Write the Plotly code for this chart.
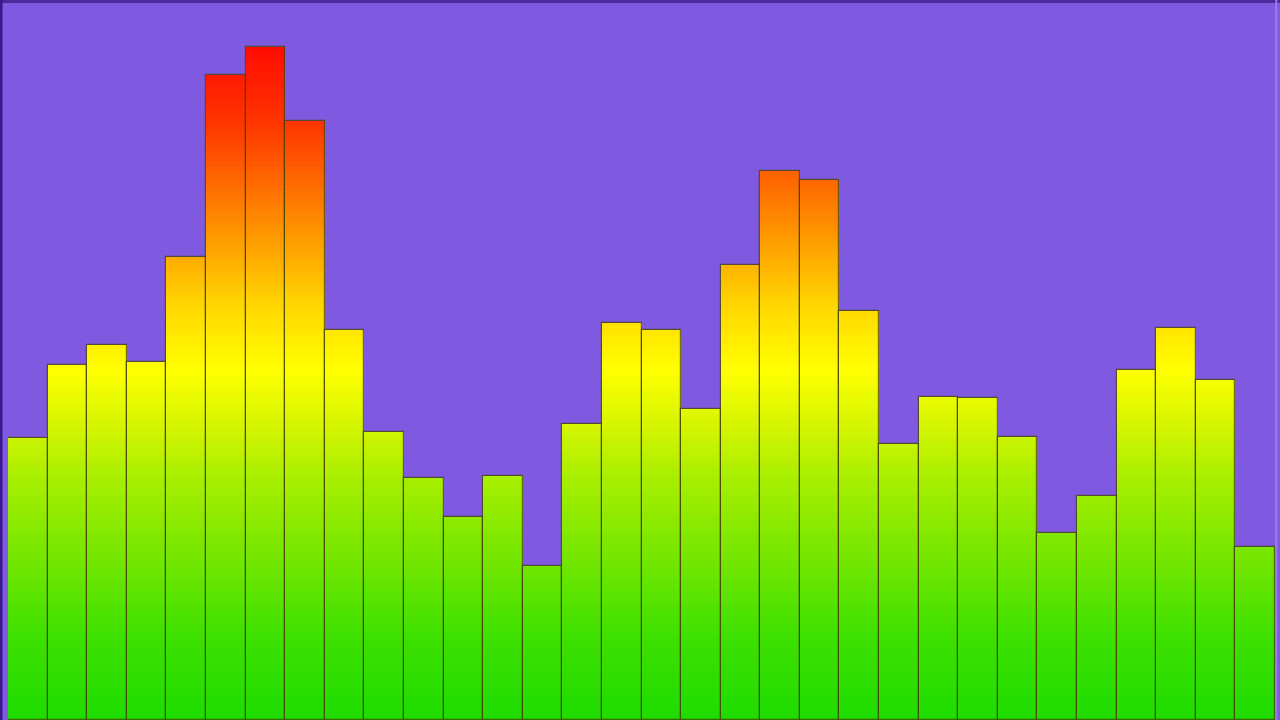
import numpy as np
import plotly.graph_objects as go
from plotly.colors import sample_colorscale

# Data: bar heights (spectrum levels)
bands = list(range(1, 33))
levels = [282, 355, 375, 358, 463, 645, 673, 599, 390, 288,
          242, 203, 244, 154, 296, 397, 390, 311, 455, 549,
          540, 409, 276, 323, 322, 283, 187, 224, 350, 392,
          340, 173]

grad_scale = [
    [0.00, "#1edc00"],
    [0.12, "#3ce000"],
    [0.24, "#74e600"],
    [0.36, "#a8ee00"],
    [0.43, "#d0f400"],
    [0.52, "#ffff00"],
    [0.62, "#ffd400"],
    [0.69, "#ffaa00"],
    [0.82, "#ff5c00"],
    [0.89, "#ff3400"],
    [1.00, "#ff0c00"],
]
grad_top = 673.0
n_seg = 140
step = grad_top / n_seg

x = np.array(bands)
v = np.array(levels, dtype=float)

fig = go.Figure()
for k in range(n_seg):
    base = k * step
    h = np.clip(v - base, 0, step + 0.8)
    if not np.any(h > 0):
        continue
    frac = min((base + step / 2) / grad_top, 1.0)
    col = sample_colorscale(grad_scale, [frac])[0]
    fig.add_trace(go.Bar(
        x=x, y=h, base=[base] * len(x),
        marker=dict(color=col, line=dict(width=0)),
        hoverinfo="skip", showlegend=False,
    ))

# outline of the full bars
fig.add_trace(go.Bar(
    x=x, y=v, base=[0] * len(x),
    marker=dict(color="rgba(0,0,0,0)",
                line=dict(color="rgba(70,70,0,0.75)", width=1.2)),
    hoverinfo="skip", showlegend=False,
))

fig.update_layout(
    width=1280, height=720,
    barmode="overlay", bargap=0,
    paper_bgcolor="#7f5ae0", plot_bgcolor="#7f5ae0",
    margin=dict(l=8, r=5, t=0, b=0),
    xaxis=dict(visible=False, range=[0.5, 32.5], fixedrange=True),
    yaxis=dict(visible=False, range=[0, 720], fixedrange=True),
    shapes=[
        dict(type="rect", xref="paper", yref="paper", x0=-0.01, x1=1.01,
             y0=0.996, y1=1.01, line=dict(width=0), fillcolor="#4a2a9c", layer="above"),
        dict(type="line", xref="paper", yref="paper", x0=-0.0055, x1=-0.0055,
             y0=0, y1=1, line=dict(color="#3a1890", width=3), layer="above"),
        dict(type="line", xref="paper", yref="paper", x0=1.001, x1=1.001,
             y0=0, y1=1, line=dict(color="#9a7ef0", width=2), layer="above"),
    ],
)

fig.write_html(
    "out.html",
    config={"displayModeBar": False},
    post_script="document.body.style.margin='0';document.body.style.overflow='hidden';",
)
